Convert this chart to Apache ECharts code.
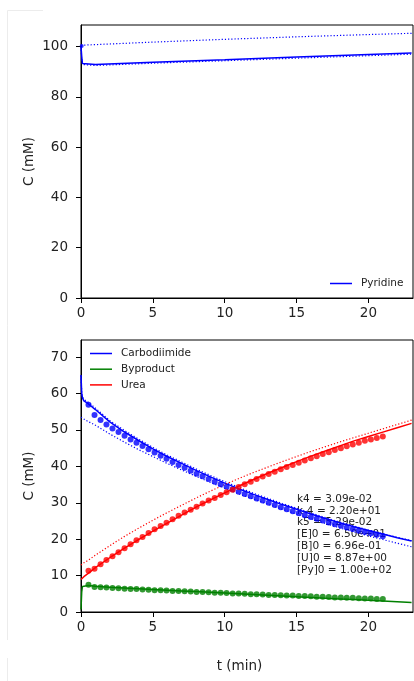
<!DOCTYPE html>
<html>
<head>
<meta charset="utf-8">
<script src="https://cdn.jsdelivr.net/npm/echarts@6/dist/echarts.min.js"></script>
<style>
  html, body { margin: 0; padding: 0; background: #fff; }
  #chart { width: 414px; height: 681px; }
</style>
</head>
<body>
<div id="chart"></div>
<script>
// top panel: pyridine fit (solid) and bounds (dotted)
const pyTimes = [0, 0.05, 0.1, 0.2, 1, 5, 10, 15, 20, 23]
const pyridineFit = [100, 96, 93.3, 92.8, 92.9, 93.8, 94.8, 95.9, 96.9, 97.5]
const pyridineUpper = [100.5, 100.6, 100.6, 100.6, 100.8, 101.8, 102.9, 103.9, 104.8, 105.3]
const pyridineLower = [100, 95.5, 92.9, 92.4, 92.5, 93.4, 94.4, 95.4, 96.4, 97.0]
const pyridineObsT = [0.05]
const pyridineObs = [100.2]

// bottom panel: measured points
const obsTimes = [0.52, 0.94, 1.36, 1.77, 2.19, 2.61, 3.03, 3.45, 3.86, 4.28,
  4.70, 5.12, 5.54, 5.95, 6.37, 6.79, 7.21, 7.63, 8.04, 8.46,
  8.88, 9.30, 9.72, 10.13, 10.55, 10.97, 11.39, 11.81, 12.22, 12.64,
  13.06, 13.48, 13.90, 14.31, 14.73, 15.15, 15.57, 15.99, 16.40, 16.82,
  17.24, 17.66, 18.08, 18.49, 18.91, 19.33, 19.75, 20.17, 20.58, 21.00]
const carbodiimideObs = [56.9, 54.1, 52.7, 51.5, 50.4, 49.4, 48.4, 47.4, 46.5, 45.6,
  44.7, 43.8, 42.9, 42.1, 41.2, 40.4, 39.6, 38.8, 38.0, 37.3,
  36.5, 35.8, 35.1, 34.4, 33.7, 33.0, 32.4, 31.8, 31.2, 30.6,
  30.0, 29.4, 28.8, 28.2, 27.7, 27.1, 26.6, 26.1, 25.6, 25.1,
  24.6, 24.1, 23.7, 23.2, 22.8, 22.4, 22.0, 21.6, 21.2, 20.8]
const ureaObs = [11.3, 11.9, 13.1, 14.3, 15.3, 16.4, 17.5, 18.6, 19.7, 20.6,
  21.7, 22.7, 23.6, 24.5, 25.5, 26.4, 27.3, 28.1, 28.9, 29.8,
  30.6, 31.3, 32.1, 32.9, 33.6, 34.3, 35.1, 35.8, 36.5, 37.2,
  37.9, 38.5, 39.2, 39.8, 40.4, 41.0, 41.6, 42.2, 42.8, 43.4,
  43.9, 44.5, 45.0, 45.5, 46.0, 46.5, 47.0, 47.4, 47.8, 48.2]
const byproductObs = [7.5, 6.9, 6.8, 6.7, 6.6, 6.5, 6.4, 6.3, 6.3, 6.2,
  6.1, 6.0, 6.0, 5.9, 5.8, 5.8, 5.7, 5.6, 5.5, 5.5,
  5.4, 5.3, 5.3, 5.2, 5.1, 5.1, 5.0, 4.9, 4.9, 4.8,
  4.7, 4.7, 4.6, 4.5, 4.5, 4.4, 4.4, 4.3, 4.2, 4.2,
  4.1, 4.0, 4.0, 3.9, 3.9, 3.8, 3.7, 3.7, 3.6, 3.6]

// bottom panel: model curves
const fitTimes = [0, 0.05, 0.1, 0.2, 0.5, 1, 2, 3, 4, 5, 6, 7, 8, 9, 10,
  11, 12, 13, 14, 15, 16, 17, 18, 19, 20, 21, 22, 23]
const carbodiimideFit = [65, 60.0, 58.8, 58.0, 57.2, 55.6, 52.2, 49.5, 47.1, 44.8, 42.7, 40.8, 38.9, 37.1, 35.4,
  33.8, 32.3, 30.9, 29.5, 28.2, 26.9, 25.7, 24.5, 23.4, 22.4, 21.4, 20.4, 19.5]
const carbodiimideUpper = [65, 60.4, 59.2, 58.4, 57.6, 56.0, 52.6, 49.9, 47.5, 45.2, 43.1, 41.2, 39.3, 37.5, 35.8,
  34.2, 32.6, 31.2, 29.8, 28.5, 27.2, 25.9, 24.7, 23.6, 22.5, 21.5, 20.5, 19.6]
const carbodiimideLower = [53.5, 53.3, 53.2, 53.0, 52.3, 51.3, 48.9, 46.7, 44.6, 42.7, 40.8, 39.0, 37.3, 35.6, 34.0,
  32.4, 31.0, 29.6, 28.2, 26.9, 25.6, 24.3, 23.1, 22.0, 20.9, 19.9, 18.9, 17.9]
const ureaFit = [8.9, 9.1, 9.3, 9.7, 10.6, 12.2, 14.9, 17.5, 19.9, 22.2, 24.4, 26.6, 28.8, 30.8, 32.7,
  34.6, 36.4, 38.1, 39.7, 41.3, 42.8, 44.2, 45.6, 47.0, 48.2, 49.4, 50.6, 51.8]
const ureaUpper = [12.9, 13.0, 13.2, 13.5, 14.2, 15.6, 18.2, 20.7, 23.0, 25.2, 27.3, 29.3, 31.3, 33.2, 35.0,
  36.7, 38.3, 39.8, 41.3, 42.7, 44.1, 45.4, 46.7, 47.9, 49.1, 50.3, 51.5, 52.7]
const byproductFit = [0.7, 5.5, 7.0, 7.4, 7.3, 7.1, 6.8, 6.6, 6.4, 6.2, 6.0, 5.8, 5.6, 5.4, 5.2,
  5.0, 4.8, 4.6, 4.4, 4.2, 4.0, 3.8, 3.6, 3.4, 3.2, 3.0, 2.8, 2.6]

const paramLines = ['k4 = 3.09e-02', 'k-4 = 2.20e+01', 'k5 = 5.29e-02', '[E]0 = 6.50e+01',
  '[B]0 = 6.96e-01', '[U]0 = 8.87e+00', '[Py]0 = 1.00e+02']

const BLUE = '#0000ff'
const GREEN = '#008000'
const RED = '#ff0000'
const FONT = 'DejaVu Sans'

const pairs = (xs, ys) => xs.map((x, i) => [x, ys[i]])

function lineSeries(name, xs, ys, color, grid, dotted) {
  return {
    name: name,
    type: 'line',
    xAxisIndex: grid,
    yAxisIndex: grid,
    data: pairs(xs, ys),
    symbol: 'none',
    z: 3,
    lineStyle: { color: color, width: dotted ? 1.2 : 1.5, type: dotted ? [1.2, 2] : 'solid' },
    itemStyle: { color: color }
  }
}

function dotSeries(name, xs, ys, color) {
  return {
    name: name,
    type: 'scatter',
    xAxisIndex: 1,
    yAxisIndex: 1,
    data: pairs(xs, ys),
    symbolSize: 6,
    z: 4,
    itemStyle: { color: color }
  }
}

const axisCommon = {
  axisLine: { show: true, onZero: false, lineStyle: { color: '#000', width: 1 } },
  axisTick: { show: true, inside: false, length: 5, lineStyle: { color: '#000', width: 1 } },
  splitLine: { show: false },
  axisLabel: { color: '#222', fontFamily: FONT, fontSize: 13.5, showMaxLabel: false }
}

function xAxis(grid) {
  return Object.assign({}, axisCommon, {
    type: 'value', gridIndex: grid, min: 0, max: 23.1, interval: 5,
    axisLabel: Object.assign({}, axisCommon.axisLabel, { margin: 8 })
  })
}

function yAxis(grid, max, interval) {
  return Object.assign({}, axisCommon, {
    type: 'value', gridIndex: grid, min: 0, max: max, interval: interval,
    name: 'C (mM)', nameLocation: 'middle', nameGap: 45, nameMoveOverlap: false,
    nameTextStyle: { color: '#222', fontFamily: FONT, fontSize: 13.5 },
    axisLabel: Object.assign({}, axisCommon.axisLabel, { margin: 13 })
  })
}

const legendCommon = {
  orient: 'vertical', icon: 'rect', itemWidth: 22, itemHeight: 1.5, padding: 0,
  textStyle: { fontFamily: FONT, fontSize: 10.5, color: '#222', lineHeight: 13, padding: [0, 0, 0, 4] }
}

const chart = echarts.init(document.getElementById('chart'))
chart.setOption({
  animation: false,
  backgroundColor: '#fff',
  grid: [
    { left: 81, top: 25, width: 332, height: 273, show: true, borderColor: '#000', borderWidth: 1,
      containLabel: false, outerBoundsMode: 'none' },
    { left: 81, top: 340, width: 332, height: 272, show: true, borderColor: '#000', borderWidth: 1,
      containLabel: false, outerBoundsMode: 'none' }
  ],
  xAxis: [xAxis(0), xAxis(1)],
  yAxis: [yAxis(0, 108.6, 20), yAxis(1, 74.7, 10)],
  legend: [
    Object.assign({}, legendCommon, { data: ['Pyridine'], left: 330, top: 277 }),
    Object.assign({}, legendCommon, { data: ['Carbodiimide', 'Byproduct', 'Urea'], left: 90, top: 347, itemGap: 2.7 })
  ],
  graphic: [
    {
      type: 'text', left: 297, top: 493, z: 0,
      style: { text: paramLines.join('\n'), font: '10.5px "DejaVu Sans"', lineHeight: 11.9, fill: '#222' }
    },
    {
      type: 'text', x: 239.5, y: 666, z: 0,
      style: { text: 't (min)', font: '13.5px "DejaVu Sans"', fill: '#222', align: 'center', verticalAlign: 'middle' }
    },
    { type: 'polyline', z: 0, shape: { points: [[43, 10.5], [7.5, 10.5], [7.5, 640]] }, style: { stroke: '#ececec', lineWidth: 1, fill: null } },
    { type: 'line', z: 0, shape: { x1: 7.5, y1: 658, x2: 7.5, y2: 681 }, style: { stroke: '#ececec', lineWidth: 1 } }
  ],
  series: [
    lineSeries('Pyridine', pyTimes, pyridineFit, BLUE, 0, false),
    lineSeries('Pyridine upper', pyTimes, pyridineUpper, BLUE, 0, true),
    lineSeries('Pyridine lower', pyTimes, pyridineLower, BLUE, 0, true),
    {
      name: 'Pyridine data', type: 'scatter', xAxisIndex: 0, yAxisIndex: 0,
      data: pairs(pyridineObsT, pyridineObs), symbolSize: 4, itemStyle: { color: BLUE }
    },
    lineSeries('Carbodiimide', fitTimes, carbodiimideFit, BLUE, 1, false),
    lineSeries('Byproduct', fitTimes, byproductFit, GREEN, 1, false),
    lineSeries('Urea', fitTimes, ureaFit, RED, 1, false),
    lineSeries('Carbodiimide upper', fitTimes, carbodiimideUpper, BLUE, 1, true),
    lineSeries('Carbodiimide lower', fitTimes, carbodiimideLower, BLUE, 1, true),
    lineSeries('Urea upper', fitTimes, ureaUpper, RED, 1, true),
    dotSeries('Carbodiimide data', obsTimes, carbodiimideObs, BLUE),
    dotSeries('Byproduct data', obsTimes, byproductObs, GREEN),
    dotSeries('Urea data', obsTimes, ureaObs, RED)
  ]
})
</script>
</body>
</html>
